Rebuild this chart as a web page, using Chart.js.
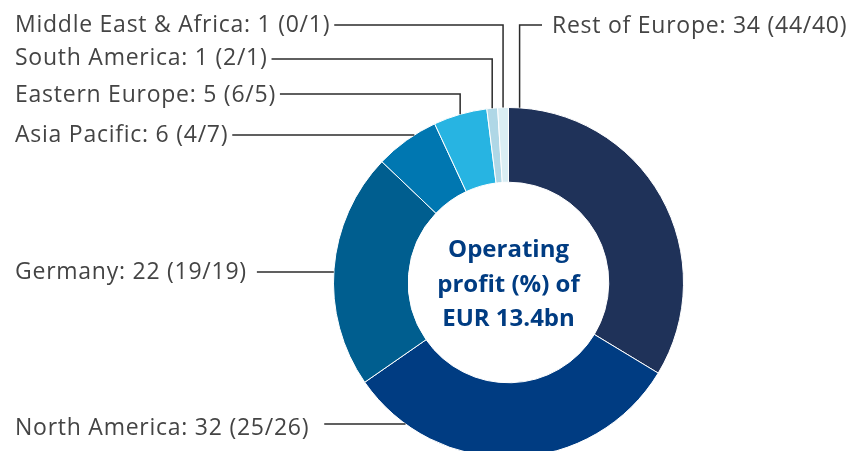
<!DOCTYPE html>
<html>
<head>
<meta charset="utf-8">
<script src="https://cdn.jsdelivr.net/npm/chart.js@4/dist/chart.umd.min.js"></script>
<style>
  html, body { margin: 0; padding: 0; background: #fff; }
  #wrap { width: 849px; height: 451px; overflow: hidden; }
</style>
</head>
<body>
<div id="wrap"><canvas id="profitChart" width="849" height="470"></canvas></div>
<script>
// regions, clockwise from 12 o'clock
const regions = ['Rest of Europe', 'North America', 'Germany', 'Asia Pacific',
                 'Eastern Europe', 'South America', 'Middle East & Africa'];
const share = [34, 32, 22, 6, 5, 1, 1];          // operating profit share (%)
const sharePrev1 = [44, 25, 19, 4, 6, 2, 0];     // first value in brackets
const sharePrev2 = [40, 26, 19, 7, 5, 1, 1];     // second value in brackets
const centerLines = ['Operating', 'profit (%) of', 'EUR 13.4bn'];

const colors = ['#1f3259', '#003c82', '#005e8f', '#0077b1', '#27b4e2', '#afd7e6', '#daeef4'];

// label placement: text x / baseline, leader line y, gap after text,
// mode 'h' = straight to ring, 'v' = elbow down to ring at fraction of slice
const labelLayout = [
  { x: 552, base: 33,  lineY: 25,  gap: 10, mode: 'v', frac: 0.03, side: 'right' },
  { x: 15,  base: 435, lineY: 424, gap: 15, mode: 'h' },
  { x: 15,  base: 279, lineY: 272, gap: 10, mode: 'h' },
  { x: 15,  base: 142, lineY: 135, gap: 4,  mode: 'h' },
  { x: 15,  base: 102, lineY: 94,  gap: 4,  mode: 'v', frac: 0.5 },
  { x: 15,  base: 65,  lineY: 59,  gap: 4,  mode: 'v', frac: 0.5 },
  { x: 15,  base: 32,  lineY: 25,  gap: 4,  mode: 'v', frac: 0.5 }
];

const labelFont = '23px "Open Sans"';
const labelColor = '#444444';

const leaderPlugin = {
  id: 'leaders',
  afterDatasetsDraw(chart) {
    const ctx = chart.ctx;
    const arcs = chart.getDatasetMeta(0).data;
    ctx.save();
    ctx.font = labelFont;
    ctx.letterSpacing = '0.75px';
    ctx.fillStyle = labelColor;
    ctx.strokeStyle = '#2b2b2b';
    ctx.lineWidth = 1.5;
    ctx.textBaseline = 'alphabetic';
    arcs.forEach((arc, i) => {
      const L = labelLayout[i];
      const text = regions[i] + ': ' + share[i] + ' (' + sharePrev1[i] + '/' + sharePrev2[i] + ')';
      ctx.textAlign = 'left';
      ctx.fillText(text, L.x, L.base);
      const w = ctx.measureText(text).width;
      const cx = arc.x, cy = arc.y, R = arc.outerRadius;
      ctx.beginPath();
      if (L.mode === 'h') {
        const dy = L.lineY - cy;
        const ex = cx - Math.sqrt(Math.max(R * R - dy * dy, 0));
        ctx.moveTo(L.x + w + L.gap, L.lineY);
        ctx.lineTo(ex, L.lineY);
      } else {
        const a = arc.startAngle + (arc.endAngle - arc.startAngle) * L.frac;
        const px = cx + R * Math.cos(a);
        const py = cy + R * Math.sin(a);
        if (L.side === 'right') {
          ctx.moveTo(L.x - L.gap, L.lineY);
        } else {
          ctx.moveTo(L.x + w + L.gap, L.lineY);
        }
        ctx.lineTo(px, L.lineY);
        ctx.lineTo(px, py);
      }
      ctx.stroke();
    });

    // centre caption
    const a0 = arcs[0];
    ctx.letterSpacing = '0px';
    ctx.font = 'bold 24px "Open Sans"';
    ctx.fillStyle = '#003c82';
    ctx.textAlign = 'center';
    centerLines.forEach((t, k) => {
      ctx.fillText(t, a0.x, a0.y - 25.5 + k * 34.5);
    });
    ctx.restore();
  }
};

new Chart(document.getElementById('profitChart'), {
  type: 'doughnut',
  data: {
    labels: regions,
    datasets: [{
      data: share,
      backgroundColor: colors,
      borderColor: '#ffffff',
      borderWidth: 1
    }]
  },
  options: {
    responsive: false,
    animation: false,
    radius: 175,
    cutout: '57.3%',
    layout: { padding: { left: 334, right: 166, top: 108, bottom: 13 } },
    plugins: {
      legend: { display: false },
      tooltip: { enabled: false }
    }
  },
  plugins: [leaderPlugin]
});
</script>
</body>
</html>
